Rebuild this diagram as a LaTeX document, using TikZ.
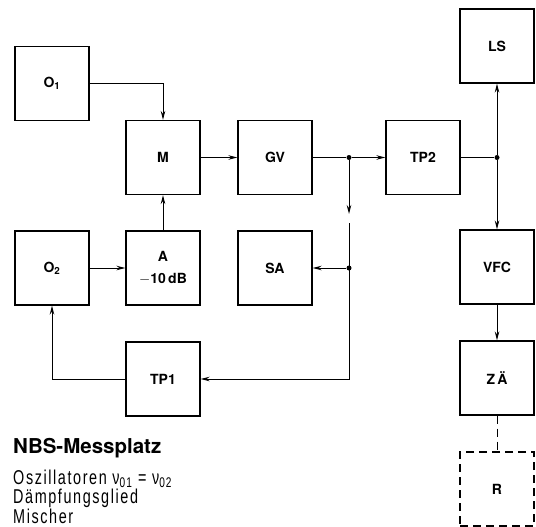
\documentclass[tikz,border=0pt]{standalone}
\usepackage{fontspec}
\setmainfont{TeX Gyre Heros}
\newfontfamily\boxfont{TeX Gyre Heros}
\newfontfamily\condfont[FakeStretch=0.72,LetterSpace=8.0]{Liberation Sans}
\usetikzlibrary{arrows.meta}
\begin{document}
\begin{tikzpicture}[x=1pt,y=-1pt,
  blk/.style={draw, line width=1.1pt, minimum width=74pt, minimum height=74pt, inner sep=0pt, font=\boxfont\bfseries\fontsize{14}{16}\selectfont, align=center},
  dblk/.style={blk, dash pattern=on 8pt off 5pt},
  wire/.style={line width=1pt},
  arr/.style={wire, -{Stealth[length=9pt,width=4.5pt]}},
  dot/.style={circle, fill, inner sep=0pt, minimum size=5pt},
  cond/.style={anchor=base west, inner sep=0pt, align=left, font=\condfont\fontsize{20}{19.5}\selectfont}]
\useasboundingbox (0,0) rectangle (536,527);
\node[blk] (O1) at (52,83.5) {O\textsubscript{1}};
\node[blk] (M) at (163,157.5) {M};
\node[blk] (GV) at (275,157.5) {GV};
\node[blk] (TP2) at (423,157.5) {TP2};
\node[blk] (LS) at (497,46) {LS};
\node[blk] (O2) at (52,268) {O\textsubscript{2}};
\node[blk] (A) at (163,268) {A\\[6pt]$-$10\,dB};
\node[blk] (SA) at (275,268) {SA};
\node[blk] (VFC) at (497,267) {VFC};
\node[blk] (ZA) at (497,378) {Z\,Ä};
\node[blk] (TP1) at (163,379) {TP1};
\node[dblk] (R) at (497,489) {R};
\node[dot] (j1) at (349,157.5) {};
\node[dot] (j2) at (349,268) {};
\node[dot] (j3) at (497,157.5) {};
\coordinate (c1) at (349,214);
\coordinate (c2) at (349,223);
\coordinate (c3) at (349,379);
\coordinate (c4) at (52,379);
\draw[arr] (O1.east) -| (M.north);
\draw[arr] (A.north) -- (M.south);
\draw[arr] (O2.east) -- (A.west);
\draw[arr] (M.east) -- (GV.west);
\draw[wire] (GV.east) -- (j1);
\draw[arr] (j1) -- (TP2.west);
\draw[arr] (j1) -- (c1);
\draw[arr] (c2) -- (c3) -- (TP1.east);
\draw[arr] (j2) -- (SA.east);
\draw[wire] (TP2.east) -- (j3);
\draw[arr] (j3) -- (LS.south);
\draw[arr] (j3) -- (VFC.north);
\draw[arr] (VFC.south) -- (ZA.north);
\draw[wire, dash pattern=on 8pt off 5pt] (ZA.south) -- (R.north);
\draw[arr] (TP1.west) -- (c4) -- (O2.south);
\node[anchor=base west, inner sep=0pt, font=\bfseries\fontsize{20.5}{22}\selectfont] (title) at (13,453) {NBS-Messplatz};
\node[cond] (legend) at (13,523) {Oszillatoren ν\textsubscript{01} = ν\textsubscript{02}\\Dämpfungsglied\\Mischer};
\end{tikzpicture}
\end{document}
